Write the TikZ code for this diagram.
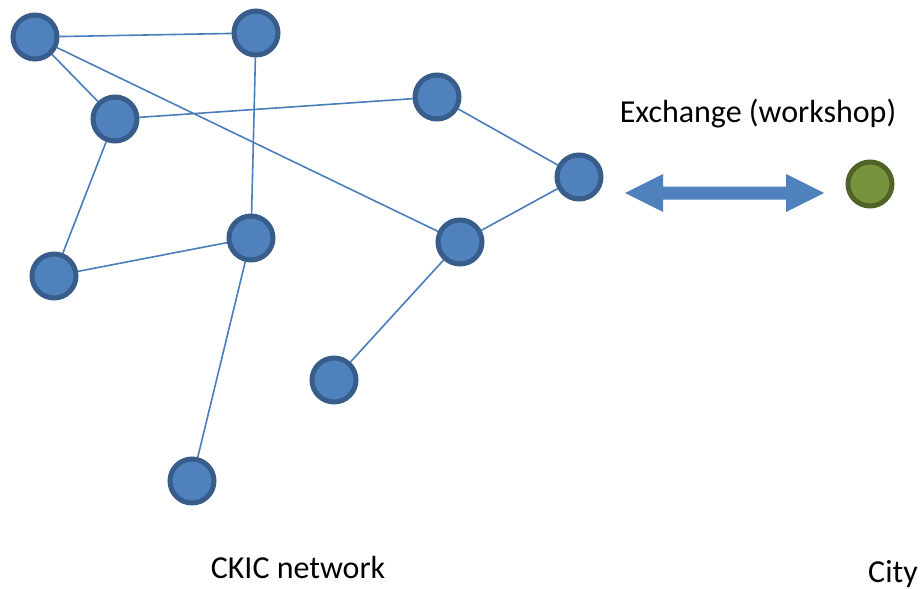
\documentclass[tikz,border=0pt]{standalone}
\usepackage{fontspec}
\setmainfont{Carlito}
\usepackage{tikz}
\usetikzlibrary{backgrounds}

\definecolor{nodeblue}{HTML}{4F81BD}
\definecolor{rimblue}{HTML}{385D8A}
\definecolor{lineblue}{HTML}{4A7EBB}
\definecolor{citygreen}{HTML}{77933C}
\definecolor{rimgreen}{HTML}{4F6228}

\tikzset{
  member/.style={circle,fill=nodeblue,draw=rimblue,line width=5pt,minimum size=44pt,inner sep=0pt},
  city/.style={member,fill=citygreen,draw=rimgreen},
  link/.style={draw=lineblue,line width=1.6pt},
  caption/.style={font=\fontsize{32}{36}\selectfont,inner sep=0pt}
}

\begin{document}
\begin{tikzpicture}[x=1pt,y=-1pt]
      \useasboundingbox (0,0) rectangle (922,589);
      \node[member] (a) at (35,37) {};
      \node[member] (b) at (256,33) {};
      \node[member] (c) at (115,119) {};
      \node[member] (d) at (437,97) {};
      \node[member] (e) at (579,177) {};
      \node[member] (f) at (251,238) {};
      \node[member] (g) at (460,242) {};
      \node[member] (h) at (54,276) {};
      \node[member] (i) at (334,380) {};
      \node[member] (j) at (192,481) {};
      \node[city] (town) at (870,184) {};
      \begin{scope}[on background layer]
      \draw[link] (a) -- (b);
      \draw[link] (a) -- (c);
      \draw[link] (a) -- (g);
      \draw[link] (c) -- (d);
      \draw[link] (c) -- (h);
      \draw[link] (b) -- (f);
      \draw[link] (h) -- (f);
      \draw[link] (f) -- (j);
      \draw[link] (d) -- (e);
      \draw[link] (e) -- (g);
      \draw[link] (g) -- (i);
      \end{scope}
      \coordinate (xl) at (625,193);
      \coordinate (xr) at (824,193);
      \fill[nodeblue] (xl) -- ++(38,-19) -- ++(0,12.5) -- ++(123,0) -- ++(0,-12.5)
        -- (xr) -- ++(-38,19) -- ++(0,-12.5) -- ++(-123,0) -- ++(0,12.5) -- cycle;
      \node[caption] (exch) at (758,114) {Exchange (workshop)};
      \node[caption] (net) at (298,568) {CKIC network};
      \node[caption] (citylabel) at (893,574) {City};
    \end{tikzpicture}
\end{document}
